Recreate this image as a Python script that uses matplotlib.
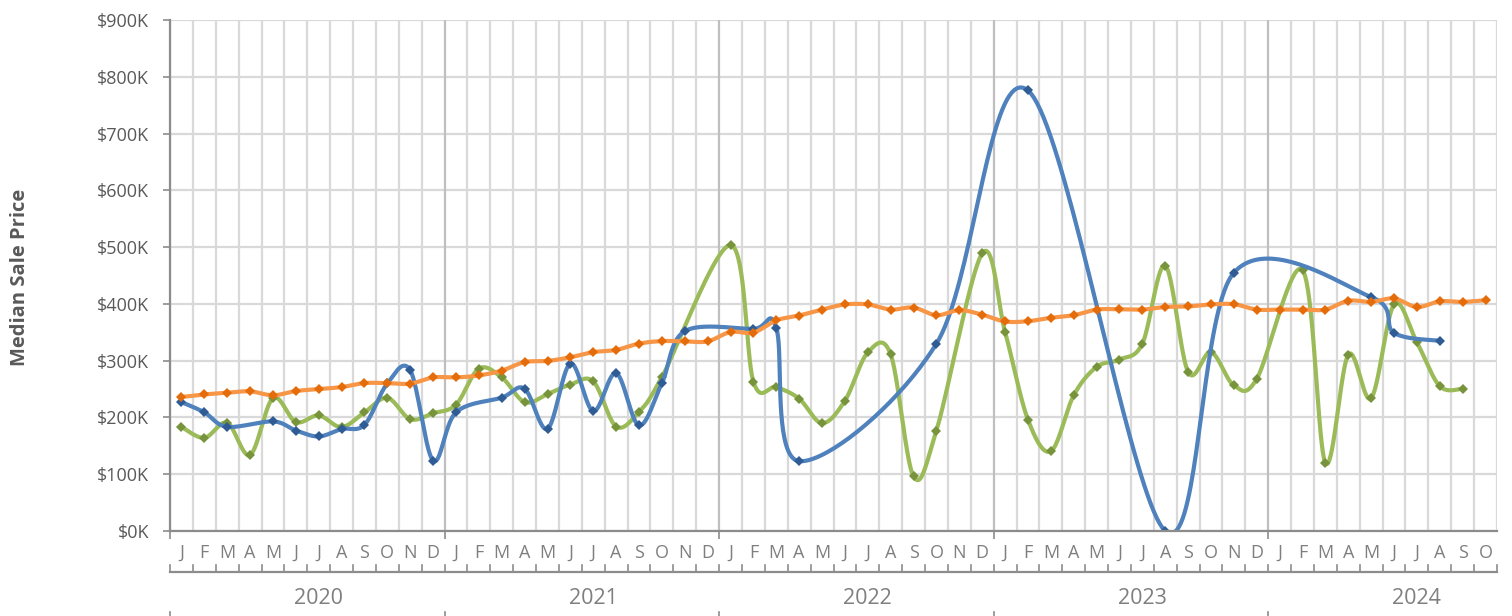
import numpy as np
import matplotlib
matplotlib.use("Agg")
import matplotlib.pyplot as plt
from matplotlib import transforms
from matplotlib.lines import Line2D

nan = np.nan

# ---- data ----
months = ["J", "F", "M", "A", "M", "J", "J", "A", "S", "O", "N", "D"] * 4 + \
         ["J", "F", "M", "A", "M", "J", "J", "A", "S", "O"]
years = ["2020", "2021", "2022", "2023", "2024"]

blue_k = [227, 209, 183.5, nan, 193, 177, 166.5, 179.5, 187, 260, 283, 124,
          209, nan, 235, 250.5, 180, 295, 211, 278, 186, 260.5, 352, nan,
          nan, 356, 357.5, 123, nan, nan, nan, nan, nan, 330, nan, nan,
          nan, 776, nan, nan, nan, nan, nan, 0, nan, nan, 455, nan,
          nan, nan, nan, nan, 412, 349, nan, 335, nan, nan]

green_k = [183.5, 164, 190.5, 134, 234, 192, 203.5, 183, 209, 234.5, 197, 207.5,
           222.5, 286, 270.5, 227, 241, 258, 263.5, 184, 210, 271, nan, nan,
           503.5, 263, 253.5, 233, 190, 229.5, 314.5, 311, 96, 177, nan, 489,
           350.5, 196, 140.5, 239, 289, 302, 330, 467.5, 280, 315, 256.5, 268,
           nan, 459.5, 120, 310.5, 234, 399, 332, 255, 250.5, nan]

orange_k = [236, 240.5, 243.5, 246, 239, 246.5, 250, 253.5, 260.5, 260.5, 259.5, 270.5,
            270.5, 274, 282.5, 297.5, 299.5, 306, 315, 319, 330, 334.5, 334, 334,
            350.5, 349.5, 371, 379.5, 390, 399, 399, 390, 393.5, 380, 389, 381,
            369, 369.5, 375.5, 380, 390, 390.5, 390, 394.5, 395.5, 399, 399.5, 390,
            390, 390, 390, 405.5, 403.5, 409.5, 394.5, 404.5, 403.5, 406.5]

y_ticks_k = [0, 100, 200, 300, 400, 500, 600, 700, 800, 900]


def smooth(xs, ys, n=40):
    """Excel-like smoothed line (Catmull-Rom Bezier) through valid points."""
    xs = np.asarray(xs, float)
    ys = np.asarray(ys, float)
    m = ~np.isnan(ys)
    P = np.column_stack([xs[m], ys[m]])
    out = []
    for i in range(len(P) - 1):
        p0 = P[i - 1] if i > 0 else P[i]
        p1 = P[i]
        p2 = P[i + 1]
        p3 = P[i + 2] if i + 2 < len(P) else P[i + 1]
        c1 = p1 + (p2 - p0) / 6.0
        c2 = p2 - (p3 - p1) / 6.0
        t = np.linspace(0, 1, n)[:, None]
        seg = ((1 - t) ** 3) * p1 + 3 * ((1 - t) ** 2) * t * c1 + \
            3 * (1 - t) * t ** 2 * c2 + t ** 3 * p2
        out.append(seg if i == 0 else seg[1:])
    s = np.vstack(out)
    return s[:, 0], s[:, 1]


W, H = 1512, 616
fig = plt.figure(figsize=(W / 100, H / 100), dpi=100)
L, R, T, B = 170, 1497, 20, 531
ax = fig.add_axes([L / W, 1 - B / H, (R - L) / W, (B - T) / H])

n = len(months)
xc = np.arange(n) + 0.5

ax.set_xlim(0, n)
ax.set_ylim(0, 900000)

# gridlines
for v in y_ticks_k:
    ax.axhline(v * 1000, color="#d9d9d9", lw=1.6, zorder=0)
for i in range(n + 1):
    col = "#bfbfbf" if (i % 12 == 0 and 0 < i < n) else "#d9d9d9"
    ax.axvline(i, color=col, lw=1.6, zorder=0)

series = [
    (green_k, "#9bbb59", "#77933c", 2),
    (blue_k, "#4f81bd", "#2f5c94", 3),
    (orange_k, "#f79646", "#e46c0a", 4),
]
for vals, lc, mc, z in series:
    y = np.array(vals, float) * 1000
    sx, sy = smooth(xc, y)
    ax.plot(sx, sy, color=lc, lw=3.0, zorder=z, solid_capstyle="round")
    ax.plot(xc, y, ls="none", marker="D", ms=5.4, color=mc, mec=mc, mew=0, zorder=z + 0.1)

# spines
for s in ["top", "right"]:
    ax.spines[s].set_visible(False)
for s in ["left", "bottom"]:
    ax.spines[s].set_color("#8c8c8c")
    ax.spines[s].set_linewidth(1.6)
    ax.spines[s].set_zorder(5)

ax.set_yticks([v * 1000 for v in y_ticks_k])
ax.set_yticklabels([f"${v}K" for v in y_ticks_k])
ax.tick_params(axis="y", length=5, width=1.2, color="#8c8c8c", pad=10,
               labelsize=13, labelcolor="#595959")
for lab in ax.get_yticklabels():
    lab.set_fontfamily(["Open Sans", "DejaVu Sans"])

ax.set_xticks([0, 12, 24, 36, 48])
ax.set_xticklabels([])
ax.tick_params(axis="x", length=6, width=1.2, color="#8c8c8c", direction="out")

# month labels
tx = ax.get_xaxis_transform()
for i, m in enumerate(months):
    ax.annotate(m, xy=(xc[i], 0), xycoords=tx, xytext=(0, -22), textcoords="offset pixels",
                ha="center", va="center", fontsize=13, color="#7f7f7f",
                family=["Open Sans", "DejaVu Sans"], annotation_clip=False)

# second axis level
bt = transforms.blended_transform_factory(ax.transData, fig.transFigure)
yl = 1 - 572 / H
fig.add_artist(Line2D([0, n], [yl, yl], transform=bt, color="#8c8c8c", lw=1.6))
for i in range(n + 1):
    fig.add_artist(Line2D([i, i], [yl, yl + 7 / H], transform=bt, color="#8c8c8c", lw=1.2))
for i in [0, 12, 24, 36, 48]:
    fig.add_artist(Line2D([i, i], [0, 4 / H], transform=bt, color="#8c8c8c", lw=1.2))
for k, yr in enumerate(years):
    fig.text(12 * k + 6.5, 1 - 598 / H, yr, transform=bt, ha="center", va="center",
             fontsize=15.5, color="#7f7f7f", family=["Open Sans", "DejaVu Sans"])

fig.text(20 / W, 1 - 277 / H, "Median Sale Price", rotation=90, ha="center", va="center",
         fontsize=14.5, fontweight="bold", color="#595959",
         family=["Open Sans", "DejaVu Sans"])

fig.savefig("out.png", dpi=100)
